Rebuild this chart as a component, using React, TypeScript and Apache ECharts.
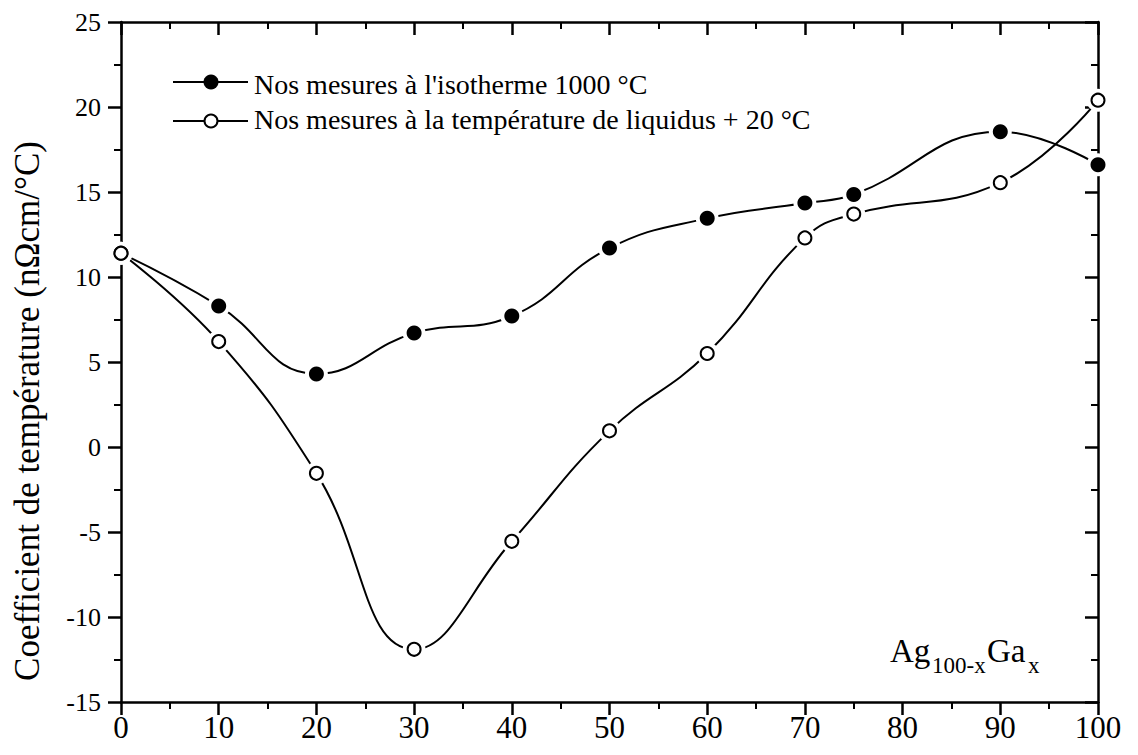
import React, { useEffect, useRef } from "react";
import * as echarts from "echarts";

const compositions = [0, 10, 20, 30, 40, 50, 60, 70, 75, 90, 100];
const isotherm1000 = [11.4, 8.3, 4.3, 6.7, 7.7, 11.7, 13.45, 14.35, 14.85, 18.55, 16.6];
const liquidusPlus20 = [11.4, 6.2, -1.55, -11.9, -5.55, 0.95, 5.5, 12.3, 13.7, 15.55, 20.4];

const seriesNames = [
  "Nos mesures à l'isotherme 1000 °C",
  "Nos mesures à la température de liquidus + 20 °C",
];
const yTitle = "Coefficient de température (nΩcm/°C)";

const FONT = "Liberation Serif";

export default function App() {
  const ref = useRef<HTMLDivElement>(null);
  useEffect(() => {
    if (!ref.current) return;
    const chart = echarts.init(ref.current, null, { renderer: "svg" });
    const filled = compositions.map((x, i) => [x, isotherm1000[i]]);
    const open = compositions.map((x, i) => [x, liquidusPlus20[i]]);

    const axisLine = { show: true, onZero: false, lineStyle: { color: "#000", width: 2.5 } };
    const minorTick = { show: true, splitNumber: 2, length: 7, lineStyle: { color: "#000", width: 2 } };
    const tickStyle = { color: "#000", width: 2.5 };

    const curve = (name: string, data: number[][]) => ({
      name,
      type: "line",
      data,
      smooth: 0.45,
      silent: true,
      showSymbol: false,
      symbol: "none",
      lineStyle: { color: "#000", width: 2 },
      emphasis: { disabled: true },
      z: 2,
      clip: false,
    });
    const halo = (name: string, data: number[][]) => ({
      name: name + " halo",
      type: "scatter",
      data,
      symbol: "circle",
      symbolSize: 23,
      itemStyle: { color: "#ffffff", opacity: 1 },
      emphasis: { disabled: true },
      silent: true,
      z: 3,
      clip: false,
    });

    chart.setOption({
      animation: false,
      backgroundColor: "#fff",
      textStyle: { fontFamily: FONT, color: "#000" },
      grid: { left: 121, right: 40, top: 22, bottom: 53 },
      xAxis: [
        {
          type: "value",
          position: "bottom",
          min: 0,
          max: 100,
          interval: 10,
          axisLine,
          axisTick: { show: true, inside: false, length: 13, lineStyle: tickStyle },
          minorTick,
          axisLabel: { fontSize: 31, fontFamily: FONT, color: "#000", margin: 10 },
          splitLine: { show: false },
        },
        {
          type: "value",
          position: "top",
          min: 0,
          max: 100,
          interval: 10,
          axisLine,
          axisTick: { show: true, inside: true, length: 13, lineStyle: tickStyle },
          minorTick: { ...minorTick },
          axisLabel: { show: false },
          splitLine: { show: false },
        },
      ],
      yAxis: [
        {
          type: "value",
          position: "left",
          min: -15,
          max: 25,
          interval: 5,
          axisLine,
          axisTick: { show: true, inside: false, length: 13, lineStyle: tickStyle },
          minorTick,
          axisLabel: { fontSize: 26, fontFamily: FONT, color: "#000", margin: 20 },
          splitLine: { show: false },
        },
        {
          type: "value",
          position: "right",
          min: -15,
          max: 25,
          interval: 5,
          axisLine,
          axisTick: { show: true, inside: true, length: 13, lineStyle: tickStyle },
          minorTick: { ...minorTick },
          axisLabel: { show: false },
          splitLine: { show: false },
        },
      ],
      series: [
        curve(seriesNames[0], filled),
        curve(seriesNames[1], open),
        halo(seriesNames[0], filled),
        halo(seriesNames[1], open),
        {
          name: seriesNames[0] + " points",
          type: "scatter",
          data: filled,
          symbol: "circle",
          symbolSize: 15,
          itemStyle: { color: "#000", opacity: 1 },
          emphasis: { disabled: true },
          silent: true,
          z: 5,
          clip: false,
        },
        {
          name: seriesNames[1] + " points",
          type: "scatter",
          data: open,
          symbol: "circle",
          symbolSize: 13,
          itemStyle: { color: "#fff", borderColor: "#000", borderWidth: 2, opacity: 1 },
          emphasis: { disabled: true },
          silent: true,
          z: 6,
          clip: false,
        },
      ],
      graphic: [
        { type: "line", shape: { x1: 173, y1: 82, x2: 248, y2: 82 }, style: { stroke: "#000", lineWidth: 2 } },
        { type: "circle", shape: { cx: 211, cy: 82, r: 7.5 }, style: { fill: "#000" } },
        {
          type: "text",
          x: 254,
          y: 84,
          style: { text: seriesNames[0], font: `28px ${FONT}`, fill: "#000", verticalAlign: "middle", align: "left" },
        },
        { type: "line", shape: { x1: 173, y1: 121, x2: 248, y2: 121 }, style: { stroke: "#000", lineWidth: 2 } },
        { type: "circle", shape: { cx: 211, cy: 121, r: 6.5 }, style: { fill: "#fff", stroke: "#000", lineWidth: 2 } },
        {
          type: "text",
          x: 254,
          y: 119,
          style: { text: seriesNames[1], font: `28px ${FONT}`, fill: "#000", verticalAlign: "middle", align: "left" },
        },
        {
          type: "text",
          x: 27,
          y: 411,
          rotation: Math.PI / 2,
          style: { text: yTitle, font: `35px ${FONT}`, fill: "#000", verticalAlign: "middle", align: "center" },
        },
        {
          type: "text",
          x: 890,
          y: 651,
          style: { text: "Ag", font: `33px ${FONT}`, fill: "#000", verticalAlign: "middle", align: "left" },
        },
        {
          type: "text",
          x: 932,
          y: 665,
          style: { text: "100-x", font: `23px ${FONT}`, fill: "#000", verticalAlign: "middle", align: "left" },
        },
        {
          type: "text",
          x: 987,
          y: 651,
          style: { text: "Ga", font: `33px ${FONT}`, fill: "#000", verticalAlign: "middle", align: "left" },
        },
        {
          type: "text",
          x: 1028,
          y: 665,
          style: { text: "x", font: `23px ${FONT}`, fill: "#000", verticalAlign: "middle", align: "left" },
        },
      ],
    });
    return () => chart.dispose();
  }, []);
  return (
    <div
      ref={ref}
      style={{ position: "absolute", left: 0, top: 0, width: 1138, height: 755, background: "#fff" }}
    />
  );
}
